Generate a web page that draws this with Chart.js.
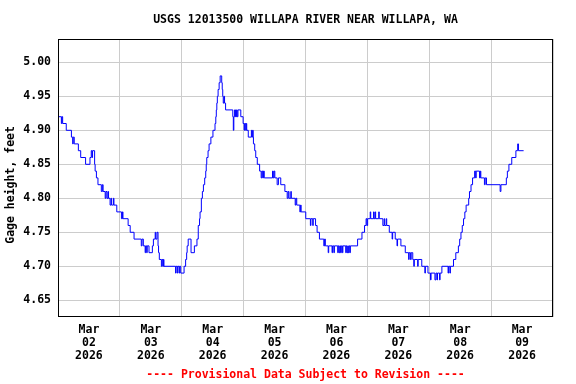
<!DOCTYPE html>
<html>
<head>
<meta charset="utf-8">
<title>USGS 12013500 WILLAPA RIVER NEAR WILLAPA, WA</title>
<script src="https://cdn.jsdelivr.net/npm/chart.js@4.4.1/dist/chart.umd.min.js"></script>
<style>
  body { margin: 0; background: #fff; }
  canvas { display: block; }
</style>
</head>
<body>
<canvas id="graficaRio" width="576" height="384"></canvas>
<script>
// ==========================================
// DATA (hours since Mar 02 00:00, gage height in feet)
// each point is where the reading changes to a new value
// ==========================================
const hours = [
  // Mar 02
  0, 1.3, 1.5, 1.8, 3.2, 5.2, 5.7, 5.9, 6.3, 7.9, 8.8, 10.7, 12.4, 12.9, 13.2, 13.4,
  14.2, 14.4, 14.9, 15.5, 16.8, 17.2, 17.5, 18.3, 18.6, 19.0, 19.4, 19.6, 20.2, 20.6,
  20.8, 21.5, 21.7, 22.8,
  // Mar 03
  24.6, 25.0, 25.2, 27.2, 28.0, 29.5, 32.3, 32.6, 33.1, 33.8, 34.0, 34.4, 34.6, 35.3,
  36.6, 37.0, 37.7, 37.9, 38.4, 38.8, 39.0, 39.3, 40.1, 40.4, 40.7, 40.9, 41.1, 45.6,
  45.8, 46.3, 46.5, 47.0, 47.2, 47.6,
  // Mar 04
  48.9, 49.5, 49.9, 50.1, 50.5, 51.6, 52.9, 53.9, 54.4, 54.9, 55.1, 55.6, 56.0, 56.4,
  56.9, 57.3, 57.5, 57.7, 58.2, 58.6, 59.3, 60.1, 60.9, 61.2, 61.4, 61.6, 61.8, 62.1,
  62.5, 62.9, 63.5, 63.7, 63.9, 64.1, 64.4, 64.6, 65.0, 67.8, 68.0, 68.2, 68.5, 68.7,
  68.9, 69.1, 69.3, 69.5, 69.8, 70.9, 71.8,
  // Mar 05
  72.2, 72.4, 72.8, 73.0, 73.2, 73.8, 75.0, 75.2, 75.5, 75.7, 75.8, 76.3, 76.7, 77.3,
  78.2, 78.8, 79.1, 79.4, 79.7, 80.0, 83.2, 83.5, 83.8, 84.1, 85.0, 85.5, 86.4, 88.0,
  88.9, 89.3, 89.6, 90.3, 90.5, 92.0, 92.3, 92.6, 93.8, 94.1, 94.3,
  // Mar 06
  96.1, 97.9, 98.1, 98.8, 99.0, 99.9, 100.5, 101.4, 103.1, 103.4, 103.7, 104.8, 105.0,
  106.3, 106.5, 107.0, 107.2, 108.5, 108.7, 109.0, 109.3, 109.6, 109.9, 110.3, 110.5,
  111.6, 111.8, 112.1, 112.4, 112.6, 112.9, 113.2, 113.4, 116.2, 117.9, 118.9, 119.5,
  // Mar 07
  119.8, 120.1, 121.1, 121.3, 122.4, 122.6, 123.0, 123.2, 124.4, 124.6, 126.0, 126.5,
  126.7, 127.3, 127.5, 128.5, 129.6, 129.8, 130.8, 131.5, 131.7, 133.0, 134.7, 136.0,
  136.2, 136.7, 137.0, 137.6, 138.0, 138.2, 139.5, 139.7, 141.1, 142.3, 142.5, 143.5,
  // Mar 08
  144.5, 144.7, 146.2, 146.6, 147.0, 147.2, 148.0, 148.2, 148.9, 151.3, 151.5, 152.0,
  152.2, 153.4, 154.3, 155.3, 155.8, 156.3, 156.8, 157.3, 157.8, 158.3, 159.3, 159.6,
  160.2, 160.8, 161.6, 162.0, 162.2, 163.5, 163.8, 164.0, 165.4, 165.7, 166.2,
  // Mar 09
  171.5, 171.8, 173.9, 174.3, 174.9, 176.0, 177.6, 178.3, 178.6, 180.6
];

const gage = [
  // Mar 02
  4.92, 4.91, 4.92, 4.91, 4.90, 4.89, 4.88, 4.89, 4.88, 4.87, 4.86, 4.85, 4.86, 4.87, 4.86, 4.87,
  4.85, 4.84, 4.83, 4.82, 4.81, 4.82, 4.81, 4.80, 4.81, 4.80, 4.81, 4.80, 4.79, 4.80,
  4.79, 4.80, 4.79, 4.78,
  // Mar 03
  4.77, 4.78, 4.77, 4.76, 4.75, 4.74, 4.73, 4.74, 4.73, 4.72, 4.73, 4.72, 4.73, 4.72,
  4.73, 4.74, 4.75, 4.74, 4.75, 4.73, 4.72, 4.71, 4.70, 4.71, 4.70, 4.71, 4.70, 4.69,
  4.70, 4.69, 4.70, 4.69, 4.70, 4.69,
  // Mar 04
  4.70, 4.71, 4.72, 4.73, 4.74, 4.72, 4.73, 4.74, 4.76, 4.77, 4.78, 4.80, 4.81, 4.82,
  4.83, 4.84, 4.85, 4.86, 4.87, 4.88, 4.89, 4.90, 4.91, 4.92, 4.93, 4.94, 4.95, 4.96,
  4.97, 4.98, 4.97, 4.96, 4.95, 4.94, 4.95, 4.94, 4.93, 4.92, 4.90, 4.92, 4.93, 4.92,
  4.93, 4.92, 4.93, 4.92, 4.93, 4.92, 4.91,
  // Mar 05
  4.90, 4.91, 4.90, 4.91, 4.90, 4.89, 4.90, 4.89, 4.90, 4.89, 4.88, 4.87, 4.86, 4.85,
  4.84, 4.83, 4.84, 4.83, 4.84, 4.83, 4.84, 4.83, 4.84, 4.83, 4.82, 4.83, 4.82, 4.81,
  4.80, 4.81, 4.80, 4.81, 4.80, 4.79, 4.80, 4.79, 4.78, 4.79, 4.78,
  // Mar 06
  4.77, 4.76, 4.77, 4.76, 4.77, 4.76, 4.75, 4.74, 4.73, 4.74, 4.73, 4.72, 4.73,
  4.72, 4.73, 4.72, 4.73, 4.72, 4.73, 4.72, 4.73, 4.72, 4.73, 4.72, 4.73,
  4.72, 4.73, 4.72, 4.73, 4.72, 4.73, 4.72, 4.73, 4.74, 4.75, 4.76, 4.77,
  // Mar 07
  4.76, 4.77, 4.78, 4.77, 4.78, 4.77, 4.78, 4.77, 4.78, 4.77, 4.76, 4.77,
  4.76, 4.77, 4.76, 4.75, 4.74, 4.75, 4.74, 4.73, 4.74, 4.73, 4.72, 4.71,
  4.72, 4.71, 4.72, 4.71, 4.70, 4.71, 4.70, 4.71, 4.70, 4.69, 4.70, 4.69,
  // Mar 08
  4.68, 4.69, 4.68, 4.69, 4.68, 4.69, 4.68, 4.69, 4.70, 4.69, 4.70, 4.69,
  4.70, 4.71, 4.72, 4.73, 4.74, 4.75, 4.76, 4.77, 4.78, 4.79, 4.80, 4.81,
  4.82, 4.83, 4.84, 4.83, 4.84, 4.83, 4.84, 4.83, 4.82, 4.83, 4.82,
  // Mar 09
  4.81, 4.82, 4.83, 4.84, 4.85, 4.86, 4.87, 4.88, 4.87, 4.87
];

const yTicks = [4.65, 4.70, 4.75, 4.80, 4.85, 4.90, 4.95, 5.00];
const dayLabels = ['02', '03', '04', '05', '06', '07', '08', '09'];
const monthLabel = 'Mar';
const yearLabel = '2026';

// ==========================================
// STYLE
// ==========================================
const fuente = { family: '"DejaVu Sans Mono", monospace', size: 11.5, weight: 'bold', lineHeight: '13px' };
const gris = '#cccccc';

// black frame around the plot area
const marco = {
  id: 'marco',
  afterDraw(chart) {
    const { ctx, chartArea: a } = chart;
    ctx.save();
    ctx.strokeStyle = '#000';
    ctx.lineWidth = 1;
    ctx.strokeRect(a.left + 0.5, a.top + 0.5, a.right - a.left - 1, a.bottom - a.top - 1);
    ctx.restore();
  }
};

// ==========================================
// CHART
// ==========================================
const ctx = document.getElementById('graficaRio').getContext('2d');

new Chart(ctx, {
  type: 'line',
  data: {
    datasets: [{
      data: hours.map((h, i) => ({ x: h, y: gage[i] })),
      borderColor: '#0000ff',
      borderWidth: 1,
      pointRadius: 0,
      stepped: true,
      fill: false
    }]
  },
  options: {
    responsive: false,
    animation: false,
    layout: { padding: { left: 0, right: 23, top: 0, bottom: 0 } },
    plugins: {
      legend: { display: false },
      tooltip: { enabled: false },
      title: {
        display: true,
        fullSize: false,
        text: 'USGS 12013500 WILLAPA RIVER NEAR WILLAPA, WA',
        color: '#000',
        font: fuente,
        padding: { top: 14, bottom: 12 }
      }
    },
    scales: {
      x: {
        type: 'linear',
        min: 0,
        max: 192,
        afterBuildTicks: s => {
          s.ticks = [];
          for (let h = 0; h <= 192; h += 12) s.ticks.push({ value: h });
        },
        afterFit: s => { s.height = 67; },
        grid: {
          color: c => (c.tick && c.tick.value % 24 === 0) ? gris : 'rgba(0,0,0,0)',
          drawTicks: false
        },
        border: { display: false },
        ticks: {
          autoSkip: false,
          maxRotation: 0,
          padding: 7,
          color: '#000',
          font: fuente,
          callback: v => (v % 24 === 12) ? [monthLabel, dayLabels[(v - 12) / 24], yearLabel] : ''
        },
        title: {
          display: true,
          text: '---- Provisional Data Subject to Revision ----',
          color: '#ff0000',
          font: fuente,
          padding: { top: 0, bottom: 2.5 }
        }
      },
      y: {
        min: 4.6254,
        max: 5.0343,
        afterBuildTicks: s => { s.ticks = yTicks.map(v => ({ value: v })); },
        afterFit: s => { s.width = 58; },
        grid: { color: gris, drawTicks: false },
        border: { display: false },
        ticks: {
          padding: 7,
          color: '#000',
          font: fuente,
          callback: v => v.toFixed(2)
        },
        title: {
          display: true,
          text: 'Gage height, feet  ',
          color: '#000',
          font: fuente,
          padding: { top: 5, bottom: 0 }
        }
      }
    }
  },
  plugins: [marco]
});
</script>
</body>
</html>
